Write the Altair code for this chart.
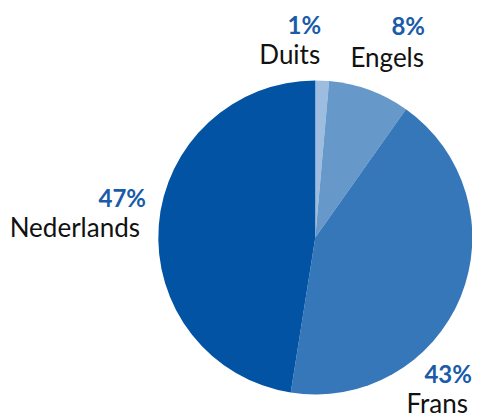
import altair as alt
import pandas as pd

# data
categories = ["Duits", "Engels", "Frans", "Nederlands"]
values = [1.4, 8.4, 42.7, 47.5]
pct_labels = ["1%", "8%", "43%", "47%"]
colors = ["#9dbde0", "#6699c9", "#3577b8", "#0353a4"]

df = pd.DataFrame({"cat": categories, "val": values, "pct": pct_labels,
                   "order": list(range(len(categories)))})

# layout (styling only)
W, H = 464, 409
CX, CY, R = 307.3, 229.5, 157
# per-label offsets from the slice edge at its mid-angle: (dx_pct, dy_pct, dx_name, dy_name)
offsets = {
    "Duits": (-1, -46.7, -2, -16.7),
    "Engels": (55.6, -55.1, 54.6, -23.1),
    "Frans": (11.2, 86.4, 7.2, 116.4),
    "Nederlands": (-12.8, -18.2, -18.8, 11.8),
}

color_scale = alt.Scale(domain=categories, range=colors)

pie = alt.Chart(df).mark_arc(outerRadius=R).encode(
    theta=alt.Theta("val:Q", stack=True),
    order=alt.Order("order:Q"),
    color=alt.Color("cat:N", scale=color_scale, legend=None),
    x=alt.value(CX), y=alt.value(CY),
)

base = alt.Chart(df).transform_window(
    cum="sum(val)", sort=[alt.SortField("order")], frame=[None, 0]
).transform_joinaggregate(
    total="sum(val)"
).transform_calculate(
    mid="(datum.cum - datum.val / 2) / datum.total"
)

theta_mid = alt.Theta("mid:Q", scale=alt.Scale(domain=[0, 1]), stack=False)

texts = []
for cat in categories:
    dxp, dyp, dxn, dyn = offsets[cat]
    sub = base.transform_filter(alt.datum.cat == cat)
    texts.append(sub.mark_text(
        radius=R, align="right", baseline="alphabetic", dx=dxp, dy=dyp,
        font="Lato", fontSize=24, fontWeight="bold", color="#1a5ca8",
    ).encode(theta=theta_mid, text="pct:N", x=alt.value(CX), y=alt.value(CY)))
    texts.append(sub.mark_text(
        radius=R, align="right", baseline="alphabetic", dx=dxn, dy=dyn,
        font="Lato", fontSize=26, color="#111111",
    ).encode(theta=theta_mid, text="cat:N", x=alt.value(CX), y=alt.value(CY)))

label_layer = alt.layer(*texts)

chart = alt.layer(pie, label_layer).resolve_scale(theta="independent").properties(
    width=W, height=H, autosize=alt.AutoSizeParams(type="none"), padding=0
).configure_view(stroke=None)

chart.save("out.html", embed_options={"renderer": "svg", "actions": False})
